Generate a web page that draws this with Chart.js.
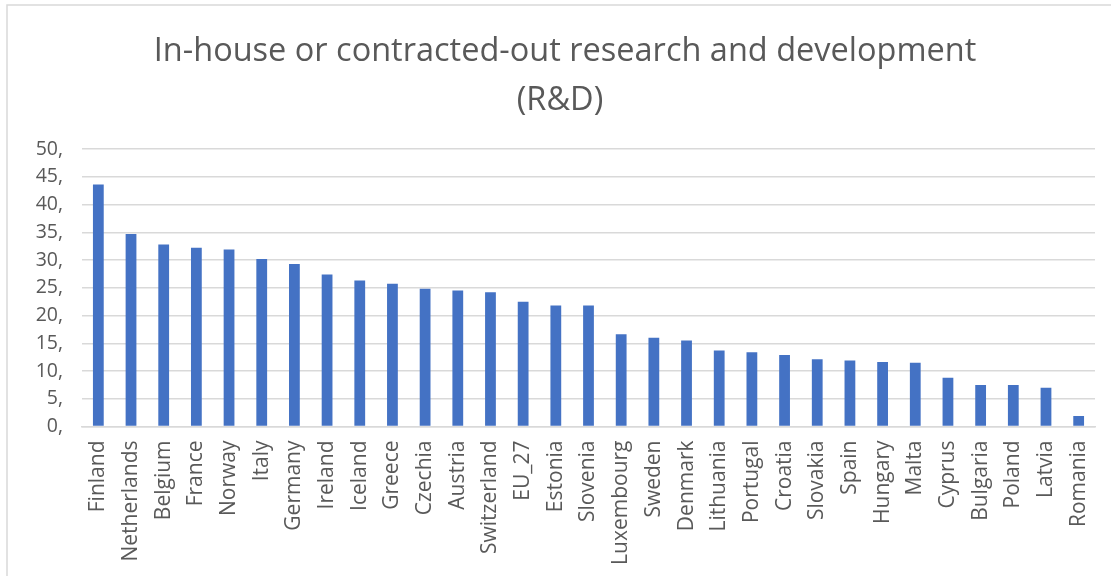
<!DOCTYPE html>
<html>
<head>
<meta charset="utf-8">
<script src="https://cdn.jsdelivr.net/npm/chart.js@4/dist/chart.umd.min.js"></script>
<style>
  html, body { margin: 0; padding: 0; background: #ffffff; }
  #wrap { width: 1111px; height: 576px; position: relative; }
</style>
</head>
<body>
<div id="wrap"><canvas id="chart" width="1111" height="576"></canvas></div>
<script>
// Share of enterprises with in-house or contracted-out R&D, by country
const countries = [
  'Finland', 'Netherlands', 'Belgium', 'France', 'Norway', 'Italy', 'Germany',
  'Ireland', 'Iceland', 'Greece', 'Czechia', 'Austria', 'Switzerland', 'EU_27',
  'Estonia', 'Slovenia', 'Luxembourg', 'Sweden', 'Denmark', 'Lithuania',
  'Portugal', 'Croatia', 'Slovakia', 'Spain', 'Hungary', 'Malta', 'Cyprus',
  'Bulgaria', 'Poland', 'Latvia', 'Romania'
];
const rdShare = [
  43.6, 34.7, 32.8, 32.2, 31.9, 30.2, 29.3,
  27.4, 26.3, 25.7, 24.8, 24.5, 24.2, 22.5,
  21.8, 21.8, 16.6, 16.0, 15.5, 13.7,
  13.4, 12.9, 12.1, 11.9, 11.6, 11.5, 8.8,
  7.5, 7.5, 7.0, 1.9
];
const titleLines = ['In-house or contracted-out research and development', '(R&D)'];
const yTickStep = 5;
const yMax = 50;

const textGrey = '#595959';
const gridGrey = '#d9d9d9';
const barBlue = '#4472C4';

// Outer frame of the chart object (top and left edges)
const framePlugin = {
  id: 'frame',
  beforeDraw(chart) {
    const ctx = chart.ctx;
    ctx.save();
    ctx.fillStyle = '#ffffff';
    ctx.fillRect(0, 0, chart.width, chart.height);
    ctx.strokeStyle = gridGrey;
    ctx.lineWidth = 1.5;
    ctx.beginPath();
    ctx.moveTo(7, chart.height);
    ctx.lineTo(7, 5);
    ctx.lineTo(chart.width, 5);
    ctx.stroke();
    ctx.restore();
  }
};

// Two-line chart title
const titlePlugin = {
  id: 'twoLineTitle',
  afterDraw(chart) {
    const ctx = chart.ctx;
    ctx.save();
    ctx.fillStyle = textGrey;
    ctx.font = '32.5px "Open Sans"';
    ctx.textAlign = 'center';
    ctx.textBaseline = 'alphabetic';
    ctx.fillText(titleLines[0], 565, 61);
    ctx.fillText(titleLines[1], 560, 110);
    ctx.restore();
  }
};

new Chart(document.getElementById('chart'), {
  type: 'bar',
  data: {
    labels: countries,
    datasets: [{
      data: rdShare,
      backgroundColor: barBlue,
      borderWidth: 0,
      categoryPercentage: 1.0,
      barPercentage: 0.33
    }]
  },
  options: {
    responsive: false,
    animation: false,
    layout: { padding: { top: 149, right: 16, left: 0, bottom: 0 } },
    plugins: {
      legend: { display: false },
      title: { display: false },
      tooltip: { enabled: false }
    },
    scales: {
      x: {
        grid: { display: false, drawTicks: false },
        border: { color: gridGrey, width: 1.5 },
        ticks: {
          color: textGrey,
          font: { family: '"Open Sans"', size: 21 },
          minRotation: 90,
          maxRotation: 90,
          autoSkip: false,
          padding: 14
        },
        afterFit(scale) {
          scale.height = 149.5;
          scale.paddingLeft = 0;
          scale.paddingRight = 0;
        }
      },
      y: {
        min: 0,
        max: yMax,
        grid: { color: gridGrey, lineWidth: 1.5, drawTicks: false },
        border: { display: false },
        ticks: {
          stepSize: yTickStep,
          color: textGrey,
          font: { family: '"Open Sans"', size: 19.5 },
          padding: 19,
          callback: (v) => v + ','
        },
        afterFit(scale) { scale.width = 82; }
      }
    }
  },
  plugins: [framePlugin, titlePlugin]
});
</script>
</body>
</html>
